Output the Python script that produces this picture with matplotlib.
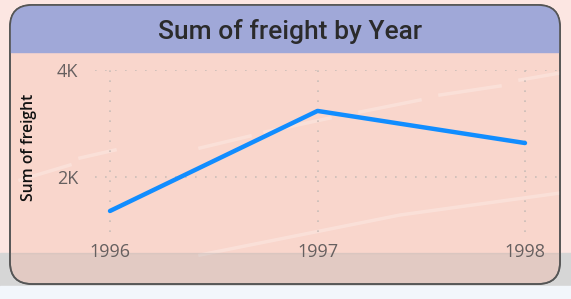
import matplotlib
matplotlib.use("Agg")
import matplotlib.pyplot as plt
from matplotlib.patches import FancyBboxPatch, Rectangle

# data
years = [1996, 1997, 1998]
freight = [1365, 3235, 2635]
y_ticks = [2000, 4000]
y_tick_labels = ["2K", "4K"]
title = "Sum of freight by Year"
y_label = "Sum of freight"

W, H = 571, 299
plt.rcParams["font.family"] = ["Open Sans", "DejaVu Sans"]
fig = plt.figure(figsize=(W / 100, H / 100), dpi=100)

# background layer in pixel coords
bg = fig.add_axes([0, 0, 1, 1], zorder=0)
bg.set_xlim(0, W)
bg.set_ylim(H, 0)
bg.axis("off")
bg.add_patch(Rectangle((0, 0), W, H, color="#fce6e2"))
bg.add_patch(Rectangle((0, 253), W, 33, color="#d6d6d6"))
bg.add_patch(Rectangle((0, 286), W, 13, color="#f2f6fb"))

card_kw = dict(boxstyle="round,pad=0,rounding_size=22", linewidth=1.2, edgecolor="#555555")
card = FancyBboxPatch((10, 5), 550, 279, facecolor="#f9d6cc", zorder=1, **card_kw)
bg.add_patch(card)
band = Rectangle((0, 0), W, 52, color="#a0a8d8", zorder=1.5)
bg.add_patch(band)
band.set_clip_path(card)
# decorative faint swooshes
for xs, ys in [([200, 250], [148, 136]), ([265, 330], [132, 118]), ([360, 420], [112, 100]),
               ([440, 500], [95, 86]), ([520, 560], [80, 73]), ([20, 70], [180, 165]),
               ([80, 115], [158, 150]), ([200, 400, 560], [255, 215, 193])]:
    ln, = bg.plot(xs, ys, color="white", alpha=0.25, lw=2.5, zorder=1.6)
    ln.set_clip_path(card)
# gray overlay band at the bottom, inside the card
ov = Rectangle((0, 253), W, 33, color="#b0b0b0", alpha=0.3, zorder=3)
bg.add_patch(ov)
ov.set_clip_path(card)
bg.add_patch(FancyBboxPatch((10, 5), 550, 279, facecolor="none", zorder=4, **card_kw))
bg.text(290, 32, title, ha="center", va="center", fontsize=19, color="#2b2b2b",
        family=["Roboto", "DejaVu Sans"], fontweight="medium", zorder=5)

# chart axes
left, right, top, bottom = 95, 557, 70, 232
ax = fig.add_axes([left / W, (H - bottom) / H, (right - left) / W, (bottom - top) / H], zorder=2)
ax.patch.set_alpha(0)
ax.plot(years, freight, color="#118dff", lw=3.2, solid_capstyle="round", zorder=3)
ax.set_xlim(1996 - 15 / 207.5, 1998 + 32 / 207.5)
ax.set_ylim(972, 4000)
ax.set_xticks(years)
ax.set_xticklabels([str(y) for y in years])
ax.set_yticks(y_ticks)
ax.set_yticklabels(y_tick_labels)
ax.tick_params(length=0, labelsize=13, labelcolor="#666060")
ax.tick_params(axis="x", pad=8)
ax.tick_params(axis="y", pad=12)
ax.grid(True, color="#c9bdb8", linestyle=(0, (1, 5)), linewidth=1.2)
for s in ax.spines.values():
    s.set_visible(False)
ax.set_ylabel(y_label, fontsize=11.3, fontweight="semibold", color="#111111")
ax.yaxis.set_label_coords(-(left - 37) / (right - left), 0.52)

fig.savefig("out.png", dpi=100)
